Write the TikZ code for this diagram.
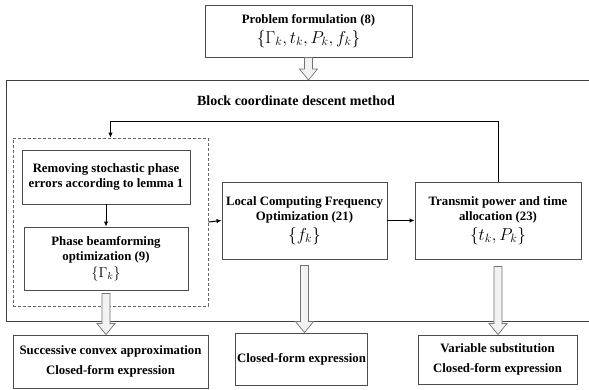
\documentclass[tikz,border=0pt]{standalone}
\usepackage{amsmath,amssymb}
\usepackage{fontspec}
\setmainfont{Liberation Serif}
\usetikzlibrary{arrows.meta,calc}

\tikzset{
  box/.style={draw=black!70,line width=0.9pt,fill=white,align=center,inner sep=2pt,
              font=\bfseries\fontsize{12.8}{15}\selectfont},
  hollow/.style={draw=black!55,fill=black!5,line width=0.7pt},
  flow/.style={draw=black,line width=1pt,-{Latex[length=5pt,width=4.5pt]}}
}
\newcommand{\bigmath}[1]{{\fontsize{17}{19}\selectfont$#1$}}
\newcommand{\hollowarrow}[2]{%
  \draw[hollow] let \p1=#1, \p2=#2 in
    (\x1-4pt,\y1) -- (\x1+4pt,\y1) -- (\x1+4pt,\y2+11pt) -- (\x1+9pt,\y2+11pt)
    -- (\x1,\y2) -- (\x1-9pt,\y2+11pt) -- (\x1-4pt,\y2+11pt) -- cycle;}

\begin{document}
\begin{tikzpicture}[x=1pt,y=-1pt]
\useasboundingbox (0,0) rectangle (589,390);

% outer frame of the method
\draw[black!75,line width=0.9pt] (589,80) -| (6,321) -- (589,321);
\node[font=\bfseries\fontsize{14}{16}\selectfont] (bcd) at (296,101) {Block coordinate descent method};

\node[draw=black!60,line width=0.7pt,dash pattern=on 3pt off 2pt,minimum width=195pt,minimum height=168pt] (grp) at (110.5,222) {};

\begin{scope}[every node/.style={box}]
    \node[minimum width=207pt,minimum height=52pt] (prob) at (308.5,31)
        {Problem formulation (8)\\[3pt]\bigmath{\{\Gamma_k,t_k,P_k,f_k\}}};
    \node[minimum width=168pt,minimum height=54pt] (remv) at (106,177)
        {Removing stochastic phase\\errors according to lemma 1};
    \node[minimum width=164pt,minimum height=63pt] (phas) at (106,258.5)
        {Phase beamforming\\optimization (9)\\[2pt]{\fontsize{14}{17}\selectfont$\{\Gamma_k\}$}};
    \node[minimum width=165pt,minimum height=77pt] (locf) at (304.5,220.5)
        {Local Computing Frequency\\Optimization (21)\\[3pt]\bigmath{\{f_k\}}};
    \node[minimum width=166pt,minimum height=77pt] (trans) at (498,220.5)
        {Transmit power and time\\allocation (23)\\[3pt]\bigmath{\{t_k,P_k\}}};
    \node[minimum width=195pt,minimum height=53pt] (out1) at (110.5,361.5)
        {Successive convex approximation\\[5pt]Closed-form expression};
    \node[minimum width=129pt,minimum height=52pt] (out2) at (301.5,359)
        {Closed-form expression};
    \node[minimum width=159pt,minimum height=49pt] (out3) at (497.5,359.5)
        {Variable substitution\\[5pt]Closed-form expression};
\end{scope}

\begin{scope}[every path/.style={flow}]
    \path (remv) -- (phas);
    \path (grp.east) -- (locf.west);
    \path (locf.east) -- (trans.west);
    \path (trans.north) -- ++(0,-60) -| (grp.north);
\end{scope}

\hollowarrow{(prob.south)}{(prob.south |- 0,80)}
\hollowarrow{([yshift=-3pt]phas.south)}{(out1.north)}
\hollowarrow{([yshift=-6pt]locf.south)}{(out2.north)}
\hollowarrow{([yshift=-7pt]trans.south)}{(out3.north)}
\end{tikzpicture}
\end{document}
